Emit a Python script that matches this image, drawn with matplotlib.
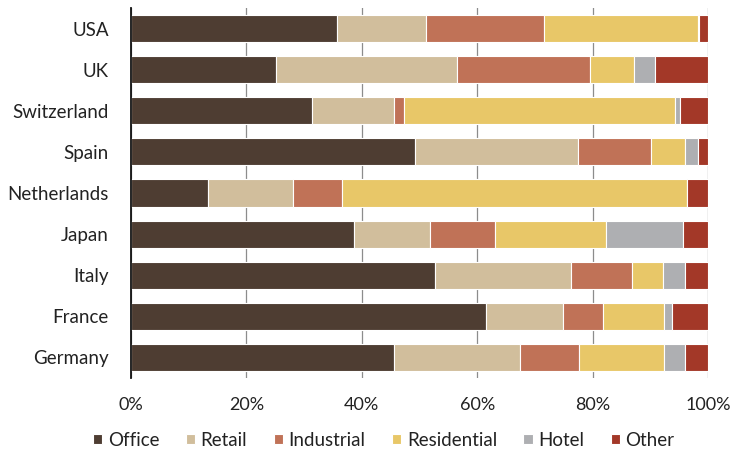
import numpy as np
import matplotlib.pyplot as plt
from matplotlib.ticker import PercentFormatter

# --- Datos: reparto del volumen por sector (%) ---
countries = ["USA", "UK", "Switzerland", "Spain", "Netherlands",
             "Japan", "Italy", "France", "Germany"]
office = [35.7, 25.1, 31.3, 49.2, 13.4, 38.6, 52.6, 61.6, 45.6]
retail = [15.4, 31.4, 14.3, 28.2, 14.7, 13.2, 23.7, 13.2, 21.9]
industrial = [20.4, 23.1, 1.8, 12.7, 8.4, 11.3, 10.6, 7.0, 10.2]
residential = [26.7, 7.6, 46.8, 5.9, 59.8, 19.3, 5.3, 10.5, 14.6]
hotel = [0.3, 3.7, 1.0, 2.2, 0.0, 13.2, 3.8, 1.5, 3.7]
other = [1.5, 9.1, 4.8, 1.8, 3.7, 4.4, 4.0, 6.2, 4.0]

sectors = ["Office", "Retail", "Industrial", "Residential", "Hotel", "Other"]
colors = ["#4E3D32", "#D1BE9C", "#C07257", "#E8C768", "#AEAFB2", "#A33828"]
series = [office, retail, industrial, residential, hotel, other]

plt.rcParams['font.family'] = ['Lato', 'DejaVu Sans']

fig = plt.figure(figsize=(7.31, 4.51), dpi=100)
ax = fig.add_axes([131 / 731, 1 - 378 / 451, 577 / 731, 370 / 451])

y = np.arange(len(countries))
left = np.zeros(len(countries))
for name, vals, col in zip(sectors, series, colors):
    vals = np.array(vals)
    ax.barh(y, vals, left=left, height=0.66, color=col, label=name,
            edgecolor="white", linewidth=0.8, zorder=2)
    left += vals

ax.set_xlim(0, 100)
ax.set_ylim(len(countries) - 0.5, -0.5)
ax.set_yticks(y)
ax.set_yticklabels(countries, fontsize=13.5, color="#222222")
ax.set_xticks(np.arange(0, 101, 20))
ax.xaxis.set_major_formatter(PercentFormatter(decimals=0))
ax.tick_params(axis="x", labelsize=13, length=0, pad=14, colors="#222222")
ax.tick_params(axis="y", length=0, pad=16)

ax.grid(axis="x", color="#8c8c8c", linewidth=0.9, zorder=0)
for s in ["top", "right", "bottom"]:
    ax.spines[s].set_visible(False)
ax.spines["left"].set_color("#111111")
ax.spines["left"].set_linewidth(1.3)
ax.spines["left"].set_zorder(3)

fig.legend(loc="center", bbox_to_anchor=(0.525, 1 - 440 / 451), ncol=6,
           frameon=False, fontsize=13.5, handlelength=0.5, handleheight=0.5,
           handletextpad=0.3, columnspacing=1.4, labelcolor="#222222")

fig.savefig("out.png", dpi=100)
